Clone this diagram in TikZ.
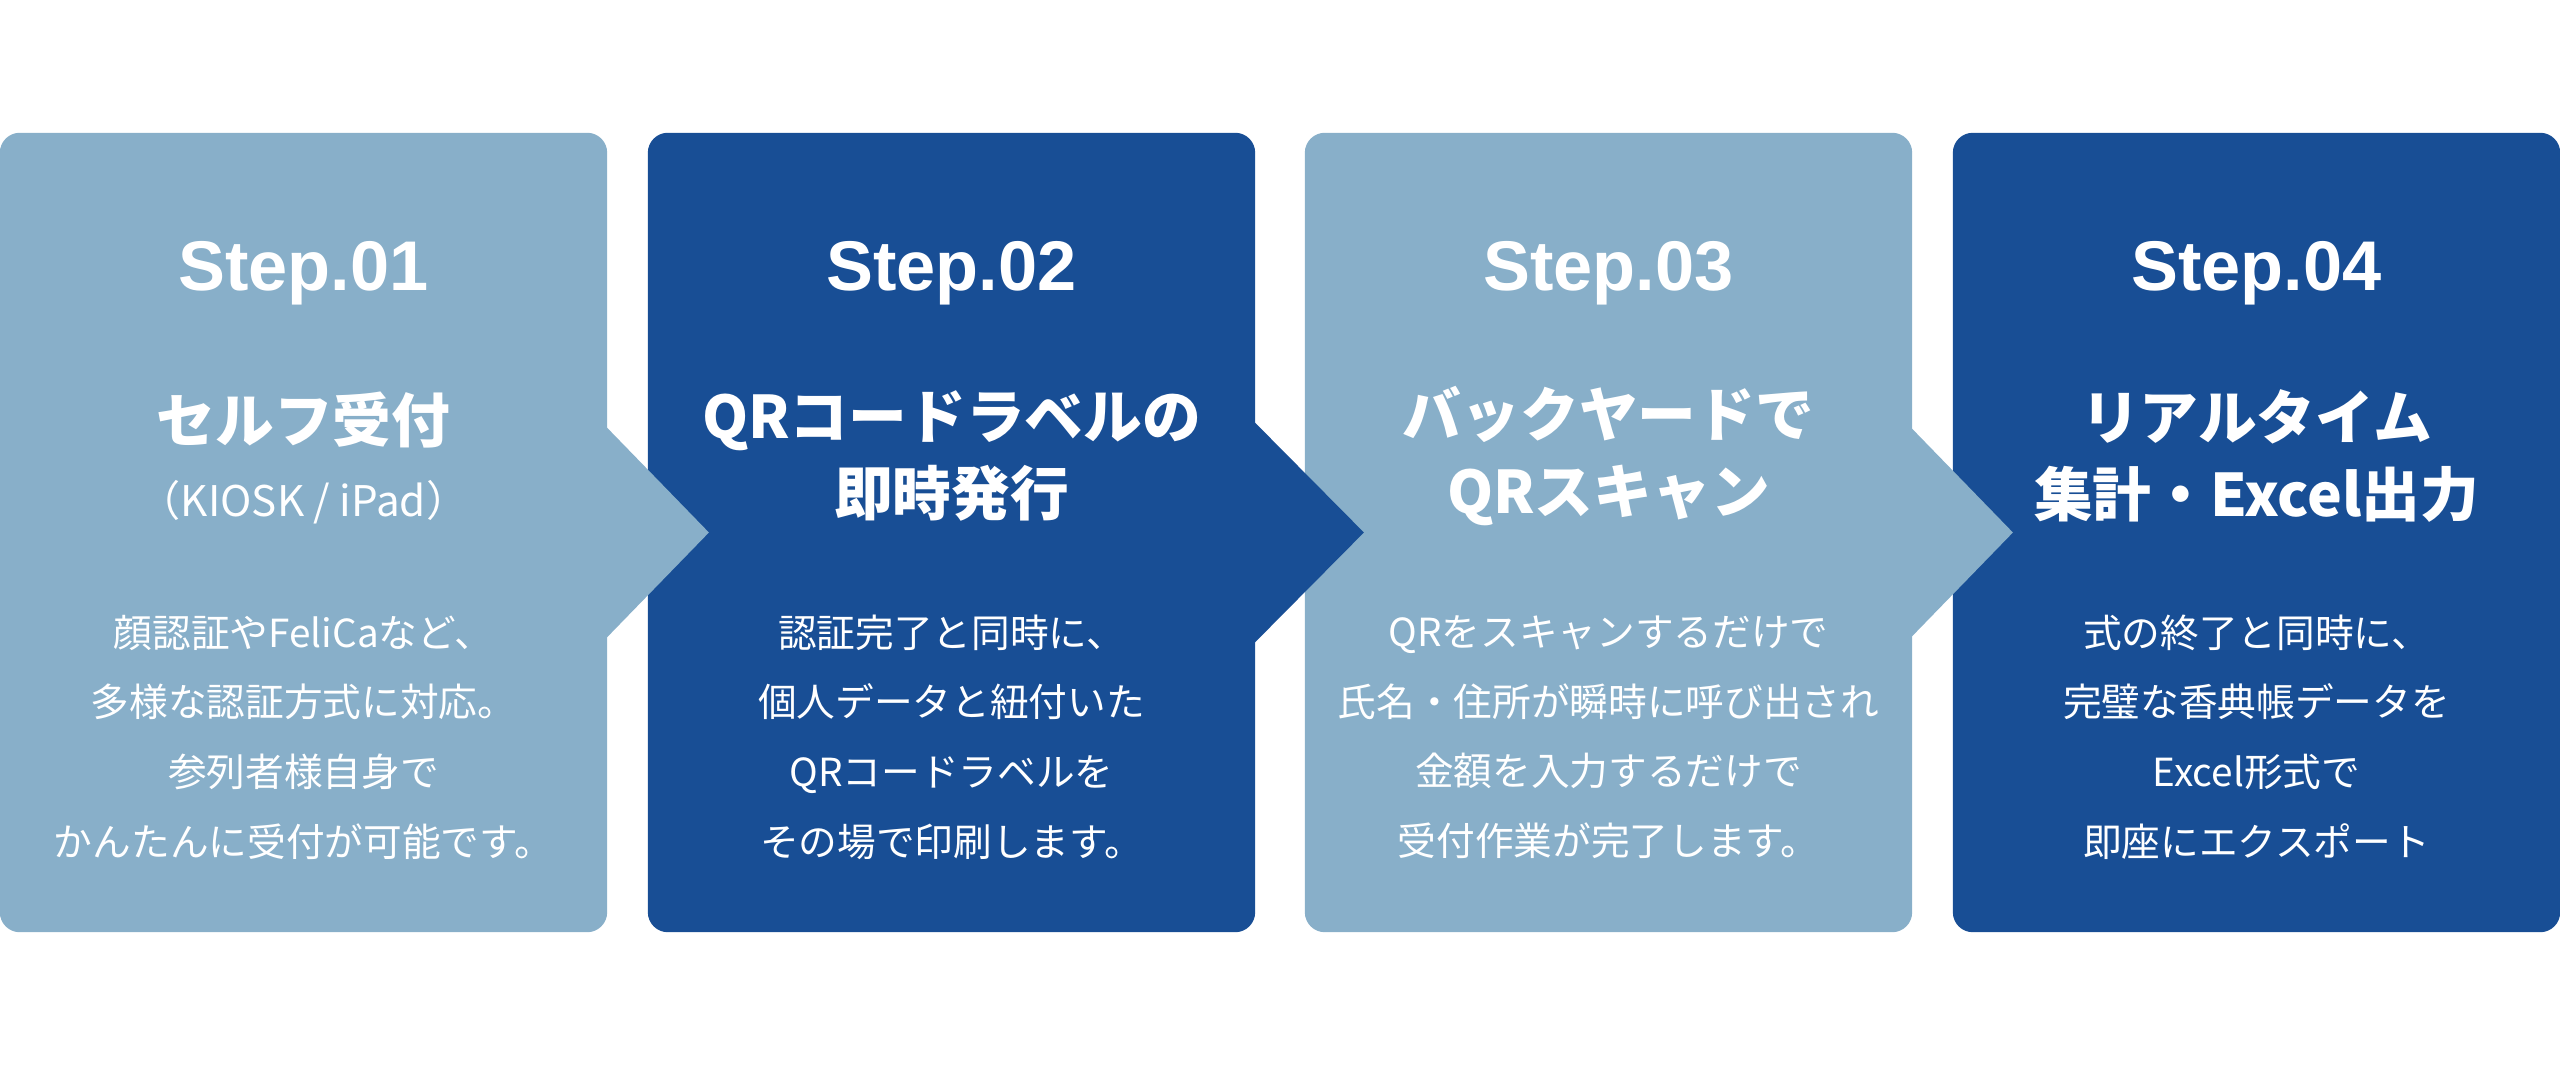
\documentclass[tikz,border=0pt]{standalone}
\usepackage{fontspec}
\setmainfont{Noto Sans CJK JP}
\newfontfamily\stepfont{Liberation Sans}
\usepackage{tikz}
\usetikzlibrary{positioning, calc}
\definecolor{paleblue}{HTML}{88AFC9}
\definecolor{deepblue}{HTML}{184E95}

\begin{document}
\begin{tikzpicture}[
    x=0.01cm, y=-0.01cm,
    stepbox/.style={rectangle, rounded corners=0.2cm, minimum width=6.07cm, minimum height=7.99cm, inner sep=0pt},
    steplabel/.style={anchor=base, text=white, font=\stepfont\bfseries\fontsize{20}{24}\selectfont},
    headline/.style={align=center, text=white, font=\bfseries\fontsize{16.7}{21.9}\selectfont},
    subline/.style={anchor=base, text=white, font=\fontsize{12}{14}\selectfont},
    bodytext/.style={align=center, text=white, font=\fontsize{11}{19.8}\selectfont}
]
\useasboundingbox (0,0) rectangle (2560,1067);

% Boxes and chevrons
\node[stepbox, fill=paleblue] (box1) at (303.5,532.5) {};
\node[stepbox, fill=deepblue] (box2) at (951.5,532.5) {};
\fill[paleblue] ($(box1.east)+(-1,-105)$) -- ($(box1.east)+(101,0)$) -- ($(box1.east)+(-1,105)$) -- cycle;
\node[stepbox, fill=paleblue] (box3) at (1608.5,532.5) {};
\fill[deepblue] ($(box2.east)+(-1,-110)$) -- ($(box2.east)+(108,0)$) -- ($(box2.east)+(-1,110)$) -- cycle;
\node[stepbox, fill=deepblue] (box4) at (2256.5,532.5) {};
\fill[paleblue] ($(box3.east)+(-1,-104)$) -- ($(box3.east)+(100,0)$) -- ($(box3.east)+(-1,104)$) -- cycle;

% Step 01
\node[steplabel] (step1) at ($(box1.north)+(0,158)$) {Step.01};
\node[headline, anchor=base] (title1) at ($(box1.north)+(0,310)$) {セルフ受付};
\node[subline] (sub1) at ($(box1.north)+(0,384)$) {（KIOSK / iPad）};
\node[bodytext] (body1) at ($(box1.north)+(0,605)$) {顔認証やFeliCaなど、\\多様な認証方式に対応。\\参列者様自身で\\かんたんに受付が可能です。};

% Step 02
\node[steplabel] (step2) at ($(box2.north)+(0,158)$) {Step.02};
\node[headline] (title2) at ($(box2.north)+(0,323.5)$) {QRコードラベルの\\即時発行};
\node[bodytext] (body2) at ($(box2.north)+(0,605)$) {認証完了と同時に、\\個人データと紐付いた\\QRコードラベルを\\その場で印刷します。};

% Step 03
\node[steplabel] (step3) at ($(box3.north)+(0,158)$) {Step.03};
\node[headline] (title3) at ($(box3.north)+(0,323.5)$) {バックヤードで\\QRスキャン};
\node[bodytext] (body3) at ($(box3.north)+(0,605)$) {QRをスキャンするだけで\\氏名・住所が瞬時に呼び出され\\金額を入力するだけで\\受付作業が完了します。};

% Step 04
\node[steplabel] (step4) at ($(box4.north)+(0,158)$) {Step.04};
\node[headline] (title4) at ($(box4.north)+(0,323.5)$) {リアルタイム\\集計・Excel出力};
\node[bodytext] (body4) at ($(box4.north)+(0,605)$) {式の終了と同時に、\\完璧な香典帳データを\\Excel形式で\\即座にエクスポート};

\end{tikzpicture}
\end{document}
